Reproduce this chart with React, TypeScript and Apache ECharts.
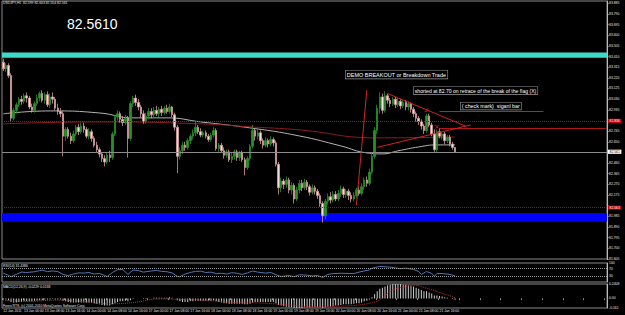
import React, { useEffect, useRef } from "react";
import * as echarts from "echarts";

const symbolTitle = "USDJPY,H1  82.599 82.603 82.554 82.561";
const bigPrice = "82.5610";
const rsiTitle = "RSI(14) 31.4386";
const macdTitle = "MACD(12,26,9) -0.0229 0.0138";
const footerText = "Forex RTS, (c) 2001-2010 MetaQuotes Software Corp.";
const noteDemo = "DEMO BREAKOUT or Breakdown Trade";
const noteShort = "shorted at 82.70 on retrace of the break of the flag (X)";
const noteCheck = "( check mark)  siganl bar";

const timeLabels = [
  "12 Jan 2011", "13 Jan 00:00", "13 Jan 08:00", "13 Jan 16:00", "14 Jan 00:00", "14 Jan 08:00",
  "14 Jan 16:00", "17 Jan 00:00", "17 Jan 08:00", "17 Jan 16:00", "18 Jan 00:00", "18 Jan 08:00",
  "18 Jan 16:00", "19 Jan 00:00", "19 Jan 08:00", "19 Jan 16:00", "20 Jan 00:00", "20 Jan 08:00",
  "20 Jan 16:00", "21 Jan 00:00", "21 Jan 08:00", "21 Jan 16:00",
];
const barsPerLabel = 8;
const slotCount = 233;

// [open, close, low, high]
const candles: number[][] = [
  [83.36, 83.30, 83.28, 83.39], [83.30, 83.33, 83.27, 83.35], [83.33, 83.24, 83.22, 83.35], [83.24, 82.86, 82.83, 83.26],
  [82.86, 82.93, 82.84, 82.95], [82.93, 82.98, 82.90, 83.00], [82.98, 83.03, 82.96, 83.05], [83.03, 83.01, 82.98, 83.06],
  [83.01, 83.06, 82.99, 83.08], [83.06, 83.04, 83.00, 83.09], [83.04, 82.96, 82.94, 83.06], [82.96, 82.93, 82.91, 82.99],
  [82.93, 82.99, 82.91, 83.01], [82.99, 83.04, 82.97, 83.07], [83.04, 83.08, 83.01, 83.10], [83.08, 83.02, 83.00, 83.11],
  [83.02, 83.07, 82.99, 83.09], [83.07, 82.98, 82.96, 83.10], [82.98, 83.05, 82.95, 83.08], [83.05, 83.03, 82.99, 83.09],
  [83.03, 82.95, 82.93, 83.05], [82.95, 82.92, 82.89, 82.99], [82.92, 82.90, 82.87, 82.95], [82.90, 82.70, 82.52, 82.92],
  [82.70, 82.76, 82.66, 82.78], [82.76, 82.70, 82.68, 82.78], [82.70, 82.66, 82.63, 82.73], [82.66, 82.72, 82.64, 82.75],
  [82.72, 82.78, 82.70, 82.80], [82.78, 82.74, 82.71, 82.81], [82.74, 82.79, 82.72, 82.82], [82.79, 82.76, 82.73, 82.82],
  [82.76, 82.70, 82.68, 82.78], [82.70, 82.74, 82.67, 82.77], [82.74, 82.68, 82.65, 82.76], [82.68, 82.62, 82.60, 82.70],
  [82.62, 82.58, 82.55, 82.65], [82.58, 82.54, 82.51, 82.60], [82.54, 82.50, 82.47, 82.56], [82.50, 82.47, 82.43, 82.53],
  [82.47, 82.53, 82.45, 82.55], [82.53, 82.51, 82.47, 82.57], [82.51, 82.72, 82.49, 82.74], [82.72, 82.87, 82.70, 82.89],
  [82.87, 82.90, 82.84, 82.93], [82.90, 82.85, 82.82, 82.92], [82.85, 82.82, 82.79, 82.88], [82.82, 82.86, 82.80, 82.89],
  [82.86, 82.68, 82.51, 82.88], [82.68, 82.99, 82.66, 83.01], [82.99, 83.04, 82.96, 83.06], [83.04, 83.00, 82.97, 83.07],
  [83.00, 82.96, 82.93, 83.03], [82.96, 82.90, 82.87, 82.98], [82.90, 82.83, 82.81, 82.93], [82.83, 82.88, 82.81, 82.91],
  [82.88, 82.92, 82.85, 82.95], [82.92, 82.89, 82.86, 82.95], [82.89, 82.93, 82.86, 82.96], [82.93, 82.90, 82.88, 82.97],
  [82.90, 82.94, 82.87, 82.96], [82.94, 82.91, 82.88, 82.97], [82.91, 82.95, 82.89, 82.97], [82.95, 82.92, 82.90, 82.98],
  [82.92, 82.96, 82.90, 82.99], [82.96, 82.89, 82.87, 82.97], [82.89, 82.78, 82.75, 82.91], [82.78, 82.52, 82.37, 82.80],
  [82.52, 82.57, 82.49, 82.60], [82.57, 82.62, 82.54, 82.65], [82.62, 82.60, 82.57, 82.65], [82.60, 82.66, 82.58, 82.68],
  [82.66, 82.70, 82.63, 82.72], [82.70, 82.73, 82.67, 82.76], [82.73, 82.78, 82.70, 82.83], [82.78, 82.74, 82.72, 82.80],
  [82.74, 82.71, 82.69, 82.77], [82.71, 82.73, 82.69, 82.75], [82.73, 82.70, 82.68, 82.75], [82.70, 82.67, 82.65, 82.72],
  [82.67, 82.71, 82.65, 82.73], [82.71, 82.75, 82.69, 82.78], [82.75, 82.59, 82.57, 82.77], [82.59, 82.62, 82.56, 82.64],
  [82.62, 82.57, 82.55, 82.64], [82.57, 82.53, 82.50, 82.60], [82.53, 82.56, 82.51, 82.58], [82.56, 82.49, 82.47, 82.58],
  [82.49, 82.52, 82.46, 82.55], [82.52, 82.56, 82.49, 82.58], [82.56, 82.51, 82.48, 82.58], [82.51, 82.55, 82.48, 82.57],
  [82.55, 82.49, 82.47, 82.57], [82.49, 82.42, 82.35, 82.51], [82.42, 82.50, 82.40, 82.52], [82.50, 82.61, 82.48, 82.63],
  [82.61, 82.75, 82.59, 82.80], [82.75, 82.70, 82.66, 82.77], [82.70, 82.73, 82.67, 82.76], [82.73, 82.66, 82.63, 82.75],
  [82.66, 82.62, 82.59, 82.68], [82.62, 82.66, 82.60, 82.69], [82.66, 82.63, 82.60, 82.68], [82.63, 82.67, 82.61, 82.70],
  [82.67, 82.64, 82.61, 82.69], [82.64, 82.45, 82.43, 82.66], [82.45, 82.24, 82.18, 82.47], [82.24, 82.30, 82.20, 82.33],
  [82.30, 82.27, 82.23, 82.32], [82.27, 82.31, 82.24, 82.34], [82.31, 82.22, 82.19, 82.33], [82.22, 82.26, 82.18, 82.29],
  [82.26, 82.14, 82.10, 82.28], [82.14, 82.22, 82.12, 82.25], [82.22, 82.28, 82.19, 82.31], [82.28, 82.24, 82.21, 82.31],
  [82.24, 82.29, 82.22, 82.32], [82.29, 82.25, 82.22, 82.31], [82.25, 82.20, 82.17, 82.27], [82.20, 82.24, 82.18, 82.27],
  [82.24, 82.21, 82.18, 82.26], [82.21, 82.17, 82.14, 82.23], [82.17, 82.10, 82.07, 82.19], [82.10, 81.99, 81.93, 82.12],
  [81.99, 82.12, 81.96, 82.14], [82.12, 82.16, 82.09, 82.19], [82.16, 82.13, 82.10, 82.20], [82.13, 82.18, 82.11, 82.21],
  [82.18, 82.14, 82.12, 82.21], [82.14, 82.19, 82.12, 82.22], [82.19, 82.23, 82.16, 82.26], [82.23, 82.18, 82.15, 82.25],
  [82.18, 82.21, 82.15, 82.23], [82.21, 82.17, 82.13, 82.23], [82.17, 82.14, 82.11, 82.20], [82.14, 82.17, 82.12, 82.20],
  [82.17, 82.22, 82.15, 82.24], [82.22, 82.19, 82.17, 82.25], [82.19, 82.25, 82.17, 82.28], [82.25, 82.31, 82.22, 82.33],
  [82.31, 82.28, 82.25, 82.34], [82.28, 82.38, 82.26, 82.41], [82.38, 82.52, 82.36, 82.55], [82.52, 82.75, 82.50, 82.78],
  [82.75, 82.95, 82.72, 82.98], [82.95, 83.05, 82.90, 83.09], [83.05, 82.93, 82.90, 83.08], [82.93, 83.06, 82.91, 83.10],
  [83.06, 83.02, 82.99, 83.08], [83.02, 82.99, 82.96, 83.04], [82.99, 83.03, 82.97, 83.05], [83.03, 82.98, 82.95, 83.05],
  [82.98, 83.01, 82.96, 83.04], [83.01, 82.97, 82.94, 83.03], [82.97, 83.00, 82.95, 83.02], [83.00, 82.96, 82.93, 83.02],
  [82.96, 82.99, 82.93, 83.01], [82.99, 82.94, 82.91, 83.00], [82.94, 82.90, 82.87, 82.96], [82.90, 82.86, 82.83, 82.92],
  [82.86, 82.83, 82.80, 82.88], [82.83, 82.79, 82.76, 82.85], [82.79, 82.75, 82.72, 82.81], [82.75, 82.88, 82.73, 82.90],
  [82.88, 82.80, 82.78, 82.90], [82.80, 82.72, 82.70, 82.82], [82.72, 82.58, 82.56, 82.76], [82.58, 82.74, 82.56, 82.76],
  [82.74, 82.70, 82.68, 82.77], [82.70, 82.72, 82.67, 82.74], [82.72, 82.66, 82.63, 82.74], [82.66, 82.69, 82.64, 82.71],
  [82.69, 82.63, 82.61, 82.71], [82.63, 82.60, 82.58, 82.65], [82.599, 82.561, 82.554, 82.603],
];

// moving averages as [barIndex, price]
const maGray = [
  [0, 82.899], [18, 82.925], [37, 82.907], [50, 82.863], [63, 82.863], [76, 82.827], [95, 82.774],
  [114, 82.702], [130, 82.613], [140, 82.551], [146, 82.542], [152, 82.569], [160, 82.604], [167, 82.622], [174, 82.622],
];
const maRed = [
  [0, 82.81], [37, 82.827], [76, 82.81], [95, 82.783], [114, 82.756], [144, 82.685], [174, 82.693],
];

// horizontal levels and drawn lines
const cyanZone = [83.398, 83.445];
const blueZone = [81.94, 82.015];
const dottedLevels = [82.836, 82.063];
const cyanLevelLabel = 83.44;
const bidPrice = 82.561;
const breakLevel = [168, 208, 82.925];
const shortLevel = [168, 232, 82.774];
const trendLines = [
  [[136, 82.087], [140, 83.112]],
  [[148, 83.08], [178, 82.79]],
  [[144, 82.6], [180, 82.8]],
];
const tradeMarks = [[167, 82.78], [163, 82.92]];
const tradeGlyphs = ["\u00d7", "\u2713"];

// RSI(14) as [barIndex, value]
const rsiPoints = [
  [0, 47], [2, 35], [3, 28], [5, 40], [7, 52], [9, 50], [12, 54], [14, 60], [15, 62], [17, 55], [19, 58],
  [21, 55], [23, 40], [25, 33], [27, 42], [29, 48], [31, 47], [33, 50], [35, 42], [37, 45], [39, 35], [40, 29],
  [42, 50], [44, 65], [46, 66], [48, 40], [50, 63], [52, 60], [54, 52], [57, 58], [59, 61], [61, 56], [63, 54],
  [65, 48], [67, 30], [68, 28], [70, 42], [72, 50], [74, 56], [76, 57], [78, 50], [80, 52], [82, 44], [84, 46],
  [86, 42], [88, 49], [90, 46], [92, 40], [94, 48], [96, 58], [98, 52], [101, 47], [103, 50], [105, 38], [107, 29],
  [110, 34], [112, 28], [114, 38], [117, 36], [119, 32], [121, 34], [123, 24], [125, 40], [127, 44], [130, 46],
  [133, 45], [135, 44], [137, 52], [139, 58], [141, 64], [142, 72], [145, 82], [147, 80], [149, 78], [151, 74],
  [153, 70], [155, 73], [158, 66], [160, 55], [161, 40], [163, 55], [165, 45], [166, 30], [167, 45], [169, 44],
  [171, 42], [173, 36], [174, 31.4386],
];
const rsiLevels = [70, 30];
const rsiAxisLabels = [30, 70, 100];

// MACD main (histogram) per bar
const macdValues = [
  -0.02, -0.02, -0.03, -0.06, -0.07, -0.07, -0.06, -0.06, -0.05, -0.05,
  -0.05, -0.05, -0.04, -0.04, -0.03, -0.03, -0.02, -0.02, -0.02, -0.01,
  -0.02, -0.02, -0.02, -0.04, -0.05, -0.06, -0.07, -0.07, -0.07, -0.07,
  -0.07, -0.07, -0.07, -0.07, -0.07, -0.08, -0.09, -0.10, -0.11, -0.12,
  -0.12, -0.12, -0.10, -0.08, -0.06, -0.05, -0.05, -0.04, -0.05, -0.03,
  -0.01, 0.0, 0.0, 0.0, -0.01, -0.01, 0.0, 0.0, 0.01, 0.01,
  0.01, 0.01, 0.01, 0.01, 0.02, 0.01, 0.0, -0.03, -0.05, -0.06,
  -0.06, -0.06, -0.05, -0.05, -0.04, -0.04, -0.04, -0.04, -0.04, -0.04,
  -0.04, -0.03, -0.05, -0.06, -0.07, -0.08, -0.08, -0.09, -0.09, -0.09,
  -0.09, -0.09, -0.09, -0.10, -0.10, -0.09, -0.07, -0.06, -0.06, -0.06,
  -0.06, -0.06, -0.06, -0.06, -0.06, -0.08, -0.11, -0.12, -0.13, -0.14,
  -0.15, -0.15, -0.16, -0.16, -0.16, -0.16, -0.15, -0.15, -0.15, -0.15,
  -0.15, -0.15, -0.15, -0.16, -0.15, -0.14, -0.14, -0.13, -0.12, -0.12,
  -0.11, -0.10, -0.10, -0.10, -0.10, -0.09, -0.08, -0.08, -0.07, -0.05,
  -0.04, -0.02, 0.02, 0.07, 0.12, 0.16, 0.18, 0.20, 0.22, 0.23,
  0.24, 0.24, 0.24, 0.24, 0.23, 0.23, 0.22, 0.21, 0.20, 0.18,
  0.16, 0.14, 0.12, 0.12, 0.10, 0.08, 0.05, 0.05, 0.04, 0.03,
  0.02, 0.01, 0.0, -0.01, -0.0229,
];
const macdSignal = [
  [0, -0.03], [10, -0.05], [20, -0.03], [30, -0.05], [40, -0.09], [50, -0.07], [60, -0.01], [70, -0.02],
  [80, -0.04], [90, -0.07], [100, -0.08], [110, -0.11], [120, -0.14], [130, -0.13], [140, -0.09], [145, -0.02],
  [150, 0.14], [155, 0.2], [158, 0.22], [163, 0.17], [168, 0.1], [174, 0.0138],
];
const macdMin = -0.161;
const macdMax = 0.2408;

const priceMin = 81.605;
const priceMax = 83.905;
const priceStep = 0.095;

const FONT = "Liberation Sans, Arial, sans-serif";
const TINY = 3.4;
const AX = "#e6e6e6";

export default function App() {
  const ref = useRef<HTMLDivElement>(null);

  useEffect(() => {
    document.body.style.margin = "0";
    document.body.style.background = "#000";
    const chart = echarts.init(ref.current!, null, { renderer: "svg" });
    const categories = Array.from({ length: slotCount }, (_, i) => String(i));
    const boxedLevels = [...dottedLevels, cyanLevelLabel, bidPrice];

    const grids = [
      { left: 2, right: 18, top: 1, height: 258 },
      { left: 2, right: 18, top: 263, height: 19 },
      { left: 2, right: 18, top: 284, height: 24 },
    ].map((g) => ({ ...g, show: true, borderColor: "#8a8a8a", borderWidth: 1, backgroundColor: "#000" }));

    const xBase = {
      type: "category",
      data: categories,
      boundaryGap: true,
      axisLine: { show: false },
      axisTick: { show: false },
      axisLabel: { show: false },
      splitLine: { show: false },
    };

    const redLabel = (v: number) => ({
      show: true,
      position: "end",
      distance: 1,
      formatter: v.toFixed(3),
      color: "#fff",
      backgroundColor: "#c00000",
      fontSize: TINY,
      fontFamily: FONT,
      padding: [0.6, 1.5],
    });

    const option: any = {
      animation: false,
      backgroundColor: "#000",
      grid: grids,
      xAxis: [
        { ...xBase, gridIndex: 0 },
        { ...xBase, gridIndex: 1 },
        {
          ...xBase,
          gridIndex: 2,
          axisTick: { show: true, interval: barsPerLabel - 1, length: 1.5, lineStyle: { color: "#aaa" }, inside: false },
          axisLabel: {
            show: true,
            interval: barsPerLabel - 1,
            formatter: (_v: string, i: number) => timeLabels[i / barsPerLabel] || "",
            color: AX,
            fontSize: TINY,
            fontFamily: FONT,
            align: "left",
            margin: 1.5,
          },
        },
      ],
      yAxis: [
        {
          type: "value",
          gridIndex: 0,
          position: "right",
          min: priceMin,
          max: priceMax,
          interval: priceStep,
          splitLine: { show: false },
          axisLine: { show: true, lineStyle: { color: "#bbb" } },
          axisTick: { show: true, length: 1.5, lineStyle: { color: "#bbb" } },
          axisLabel: {
            color: AX,
            fontSize: TINY,
            fontFamily: FONT,
            margin: 2,
            formatter: (v: number) => (boxedLevels.some((b) => Math.abs(b - v) < 0.03) ? "" : v.toFixed(3)),
          },
        },
        {
          type: "value",
          gridIndex: 1,
          position: "right",
          min: 0,
          max: 100,
          interval: 10,
          splitLine: { show: false },
          axisLine: { show: true, lineStyle: { color: "#bbb" } },
          axisTick: { show: false },
          axisLabel: {
            color: AX,
            fontSize: TINY,
            fontFamily: FONT,
            margin: 2,
            formatter: (v: number) => (rsiAxisLabels.includes(Math.round(v)) ? String(Math.round(v)) : ""),
          },
        },
        {
          type: "value",
          gridIndex: 2,
          position: "right",
          min: macdMin,
          max: macdMax,
          interval: -macdMin,
          splitLine: { show: false },
          axisLine: { show: true, lineStyle: { color: "#bbb" } },
          axisTick: { show: false },
          axisLabel: {
            color: AX,
            fontSize: TINY,
            fontFamily: FONT,
            margin: 2,
            showMaxLabel: true,
            showMinLabel: true,
            formatter: (v: number) =>
              Math.abs(v - macdMax) < 1e-6 ? String(macdMax) : Math.abs(v) < 1e-9 ? "0.00" : Math.abs(v - macdMin) < 1e-6 ? String(macdMin) : "",
          },
        },
      ],
      series: [
        {
          type: "candlestick",
          xAxisIndex: 0,
          yAxisIndex: 0,
          barWidth: 2,
          data: candles,
          itemStyle: {
            color: "#2b8f2b",
            borderColor: "#2b8f2b",
            color0: "#f6dcdc",
            borderColor0: "#d49a9a",
            borderWidth: 0.8,
          },
          markArea: {
            silent: true,
            data: [
              [{ yAxis: cyanZone[0], itemStyle: { color: "#3fd9c9" } }, { yAxis: cyanZone[1] }],
              [{ yAxis: blueZone[0], itemStyle: { color: "#0000ff" } }, { yAxis: blueZone[1] }],
            ],
          },
          markLine: {
            silent: true,
            symbol: ["none", "none"],
            precision: 3,
            data: [
              ...dottedLevels.map((v) => ({
                yAxis: v,
                lineStyle: { color: "#a31515", type: "dotted", width: 1 },
                label: redLabel(v),
              })),
              { yAxis: cyanLevelLabel, lineStyle: { opacity: 0 }, label: redLabel(cyanLevelLabel) },
              {
                yAxis: bidPrice,
                lineStyle: { color: "#8c8c8c", type: "solid", width: 1 },
                label: { ...redLabel(bidPrice), backgroundColor: "#ffffff", color: "#000" },
              },
              [
                { coord: [breakLevel[0], breakLevel[2]], lineStyle: { color: "#c81e1e", type: "solid", width: 1 }, label: { show: false } },
                { coord: [breakLevel[1], breakLevel[2]] },
              ],
              [
                { coord: [shortLevel[0], shortLevel[2]], lineStyle: { color: "#b01818", type: "solid", width: 1 }, label: { show: false } },
                { coord: [shortLevel[1], shortLevel[2]] },
              ],
              ...trendLines.map((t) => [
                { coord: t[0], lineStyle: { color: "#d42222", type: "solid", width: 1 }, label: { show: false } },
                { coord: t[1] },
              ]),
            ],
          },
          z: 3,
        },
        {
          type: "line",
          xAxisIndex: 0,
          yAxisIndex: 0,
          data: maGray,
          smooth: true,
          showSymbol: false,
          lineStyle: { color: "#b4b4b4", width: 1 },
          z: 2,
        },
        {
          type: "line",
          xAxisIndex: 0,
          yAxisIndex: 0,
          data: maRed,
          smooth: true,
          showSymbol: false,
          lineStyle: { color: "#8e1c1c", width: 1 },
          z: 2,
        },
        {
          type: "scatter",
          xAxisIndex: 0,
          yAxisIndex: 0,
          data: tradeMarks,
          symbolSize: 0.5,
          itemStyle: { color: "rgba(0,0,0,0)" },
          label: {
            show: true,
            position: "inside",
            formatter: (p: any) => tradeGlyphs[p.dataIndex],
            color: "#ff3a3a",
            fontSize: 7,
            fontFamily: "DejaVu Sans",
          },
          z: 5,
        },
        {
          type: "line",
          xAxisIndex: 1,
          yAxisIndex: 1,
          data: rsiPoints,
          showSymbol: false,
          lineStyle: { color: "#4a78b8", width: 1 },
          markLine: {
            silent: true,
            symbol: ["none", "none"],
            label: { show: false },
            lineStyle: { color: "#9a9a9a", type: "dotted", width: 1 },
            data: rsiLevels.map((v) => ({ yAxis: v })),
          },
        },
        {
          type: "bar",
          xAxisIndex: 2,
          yAxisIndex: 2,
          data: macdValues,
          barWidth: 0.8,
          itemStyle: { color: "#cfcfcf" },
        },
        {
          type: "line",
          xAxisIndex: 2,
          yAxisIndex: 2,
          data: macdSignal,
          smooth: true,
          showSymbol: false,
          lineStyle: { color: "#c03030", width: 1, type: "dotted" },
        },
      ],
      graphic: [
        { type: "text", left: 3, top: 1.5, z: 10, style: { text: symbolTitle, fill: AX, fontSize: TINY, fontFamily: FONT } },
        { type: "text", left: 67, top: 16.5, z: 10, style: { text: bigPrice, fill: "#ffffff", fontSize: 14, fontFamily: FONT } },
        {
          type: "text", left: 345, top: 70, z: 10,
          style: { text: noteDemo, fill: "#ffffff", fontSize: 5.5, fontFamily: FONT, backgroundColor: "#000", borderColor: "#9a9a9a", borderWidth: 0.6, padding: [1, 1.2] },
        },
        {
          type: "text", left: 413, top: 86.5, z: 10,
          style: { text: noteShort, fill: "#ffffff", fontSize: 5.1, fontFamily: FONT, backgroundColor: "#000", borderColor: "#9a9a9a", borderWidth: 0.6, padding: [1, 1.2] },
        },
        {
          type: "text", left: 460, top: 102, z: 10,
          style: { text: noteCheck, fill: "#ffffff", fontSize: 5.3, fontFamily: FONT, backgroundColor: "#000", borderColor: "#9a9a9a", borderWidth: 0.6, padding: [1, 1.2] },
        },
        { type: "text", left: 3, top: 264.5, z: 10, style: { text: rsiTitle, fill: AX, fontSize: TINY, fontFamily: FONT } },
        { type: "text", left: 3, top: 285.5, z: 10, style: { text: macdTitle, fill: AX, fontSize: TINY, fontFamily: FONT } },
        { type: "text", left: 3, top: 304, z: 10, style: { text: footerText, fill: AX, fontSize: TINY, fontFamily: FONT } },
      ],
    };

    chart.setOption(option);
    return () => chart.dispose();
  }, []);

  return <div ref={ref} style={{ position: "absolute", left: 0, top: 0, width: 625, height: 315, background: "#000" }} />;
}
